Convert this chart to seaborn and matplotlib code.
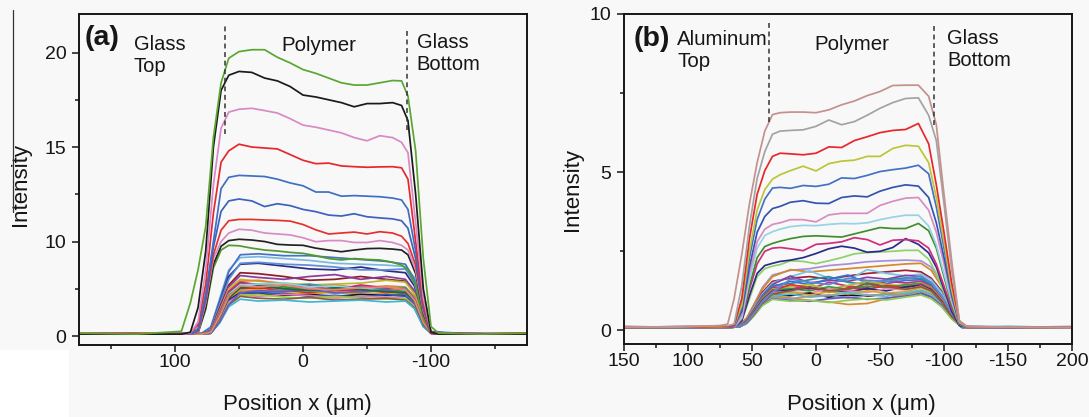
import numpy as np
import pandas as pd
import matplotlib
matplotlib.use("Agg")
import matplotlib.pyplot as plt
import seaborn as sns
from matplotlib.lines import Line2D
from matplotlib.patches import Rectangle

# ---------------------------------------------------------------- data (a)
A_X_TOP = [175, 130, 95, 88, 82, 76, 70, 64, 58, 50, 40, 30, 20, 10, 0, -10, -20, -30, -40, -50,
           -60, -70, -77, -82, -88, -94, -100, -106, -140, -175]
A_GREEN = [0.3, 0.2, 0.5, 3.5, 7.0, 10.8, 15.5, 18.4, 19.7, 20.05, 20.15, 20.15, 19.75, 19.45, 19.1, 18.9, 18.65, 18.4, 18.28, 18.28,
           18.4, 18.52, 18.5, 17.7, 14.8, 8.2, 1.0, 0.3, 0.2, 0.3]
A_BLACK = [0.2, 0.2, 0.2, 0.4, 3.0, 9.0, 15.0, 18.0, 18.8, 19.0, 18.95, 18.65, 18.5, 18.2, 17.75, 17.65, 17.5, 17.35, 17.13, 17.3,
           17.3, 17.35, 17.2, 16.4, 12.5, 5.0, 0.4, 0.2, 0.2, 0.2]
A_PINK = [0.2, 0.2, 0.2, 0.3, 1.5, 7.0, 13.0, 16.0, 16.85, 17.0, 17.05, 16.93, 16.8, 16.5, 16.16, 16.05, 15.9, 15.75, 15.5, 15.33,
          15.6, 15.5, 15.25, 14.7, 11.0, 4.0, 0.4, 0.2, 0.2, 0.2]
A_RED = [0.2, 0.2, 0.2, 0.3, 1.2, 5.5, 11.5, 14.2, 14.8, 15.15, 15.0, 14.95, 14.9, 14.6, 14.3, 14.12, 14.15, 14.0, 13.96, 13.93,
         13.95, 13.96, 13.9, 13.3, 10.0, 3.5, 0.3, 0.2, 0.2, 0.2]
A_BLUE1 = [0.2, 0.2, 0.2, 0.2, 0.8, 4.5, 10.0, 12.8, 13.4, 13.5, 13.47, 13.44, 13.3, 13.1, 12.95, 12.62, 12.62, 12.4, 12.43, 12.4,
           12.37, 12.3, 12.2, 11.7, 9.0, 3.2, 0.3, 0.2, 0.2, 0.2]
A_BLUE2 = [0.2, 0.2, 0.2, 0.2, 0.6, 4.0, 9.4, 11.6, 12.15, 12.25, 12.15, 11.85, 12.0, 11.9, 11.7, 11.58, 11.4, 11.35, 11.47, 11.31,
           11.25, 11.2, 11.1, 10.7, 8.2, 3.0, 0.3, 0.2, 0.2, 0.2]
A_RED2 = [0.2, 0.2, 0.2, 0.2, 0.5, 3.8, 8.6, 10.6, 11.1, 11.17, 11.17, 11.14, 11.12, 11.08, 10.9, 10.62, 10.4, 10.45, 10.5, 10.4,
          10.52, 10.45, 10.28, 9.8, 7.5, 2.8, 0.3, 0.2, 0.2, 0.2]
A_PINK2 = [0.2, 0.2, 0.2, 0.2, 0.4, 3.5, 8.2, 10.0, 10.45, 10.65, 10.6, 10.45, 10.4, 10.35, 10.2, 9.98, 10.05, 10.05, 9.9, 9.9,
           10.05, 9.9, 9.6, 9.1, 7.0, 2.6, 0.3, 0.2, 0.2, 0.2]
A_BLACK2 = [0.2, 0.2, 0.2, 0.2, 0.4, 3.0, 7.6, 9.5, 10.05, 10.12, 10.08, 10.0, 9.7, 9.63, 9.6, 9.3, 9.1, 8.92, 9.1, 9.25,
            9.28, 9.2, 9.1, 8.6, 6.6, 2.4, 0.3, 0.2, 0.2, 0.2]
A_GREEN2 = [0.2, 0.2, 0.2, 0.2, 0.3, 2.8, 7.2, 9.1, 9.6, 9.55, 9.3, 9.1, 9.0, 8.85, 8.75, 8.5, 8.2, 8.05, 8.2, 8.1,
            8.05, 7.8, 7.5, 7.0, 5.4, 2.0, 0.3, 0.2, 0.2, 0.2]
A_TOP = {"g1": A_GREEN, "k1": A_BLACK, "p1": A_PINK, "r1": A_RED, "b1": A_BLUE1, "b2": A_BLUE2,
         "r2": A_RED2, "p2": A_PINK2, "k2": A_BLACK2, "g2": A_GREEN2}
A_TOP_COLORS = {"g1": "#5aa630", "k1": "#1a1a1a", "p1": "#d889c6", "r1": "#e5282f", "b1": "#3f6fc4",
                "b2": "#3b62bc", "r2": "#e6302f", "p2": "#d88cc4", "k2": "#222222", "g2": "#4f9a2e"}

A_X_LOW = [175, 110, 79, 72, 65, 58, 49, 35, 15, -5, -25, -45, -65, -80, -87, -94, -100, -130, -175]
A_LOW = {
    "c01": [0.2, 0.2, 0.3, 1.0, 4.0, 7.0, 8.3, 8.4, 8.2, 8.0, 7.7, 7.6, 7.5, 7.35, 6.2, 2.5, 0.5, 0.2, 0.2],
    "c02": [0.2, 0.3, 0.3, 0.9, 3.8, 6.8, 8.6, 8.7, 8.5, 8.5, 8.3, 8.1, 7.9, 7.6, 6.0, 2.2, 0.4, 0.2, 0.3],
    "c03": [0.3, 0.2, 0.2, 0.8, 3.5, 6.3, 7.6, 7.7, 7.4, 7.1, 7.0, 7.3, 6.9, 6.7, 5.3, 2.0, 0.4, 0.2, 0.2],
    "c04": [0.2, 0.2, 0.2, 0.8, 3.4, 6.0, 7.7, 7.8, 7.6, 7.5, 7.3, 7.0, 7.0, 7.1, 5.6, 2.1, 0.4, 0.3, 0.2],
    "c05": [0.3, 0.3, 0.2, 0.6, 3.0, 5.4, 6.7, 6.6, 6.3, 5.9, 6.0, 6.3, 6.0, 5.8, 4.6, 1.8, 0.4, 0.2, 0.3],
    "c06": [0.2, 0.2, 0.2, 0.6, 2.8, 5.2, 6.4, 6.2, 6.0, 6.3, 6.5, 6.0, 6.3, 6.0, 4.8, 1.9, 0.4, 0.2, 0.2],
    "c07": [0.2, 0.2, 0.2, 0.5, 2.7, 5.0, 6.0, 5.8, 5.6, 5.4, 5.5, 5.6, 5.9, 5.7, 4.5, 1.8, 0.3, 0.2, 0.2],
    "c08": [0.3, 0.2, 0.2, 0.5, 2.6, 4.8, 5.8, 5.9, 5.5, 5.2, 5.4, 5.1, 5.3, 5.2, 4.2, 1.6, 0.3, 0.2, 0.3],
    "c09": [0.2, 0.2, 0.2, 0.5, 2.5, 4.6, 5.6, 5.5, 5.3, 5.5, 5.1, 5.2, 5.0, 5.1, 4.0, 1.5, 0.3, 0.2, 0.2],
    "c10": [0.3, 0.3, 0.2, 0.5, 2.5, 4.7, 5.7, 5.4, 5.0, 5.3, 4.9, 5.4, 5.1, 4.9, 3.9, 1.5, 0.3, 0.3, 0.2],
    "c11": [0.2, 0.2, 0.2, 0.4, 2.3, 4.4, 5.4, 5.5, 5.6, 5.2, 5.3, 5.0, 4.8, 4.8, 3.8, 1.4, 0.3, 0.2, 0.2],
    "c12": [0.2, 0.2, 0.2, 0.4, 2.2, 4.3, 5.2, 5.0, 5.2, 4.9, 5.0, 4.7, 4.9, 4.7, 3.7, 1.4, 0.3, 0.2, 0.2],
    "c13": [0.3, 0.2, 0.2, 0.4, 2.2, 4.2, 5.0, 5.1, 4.8, 4.6, 4.8, 4.9, 4.6, 4.5, 3.6, 1.3, 0.3, 0.2, 0.3],
    "c14": [0.2, 0.2, 0.2, 0.4, 2.1, 4.1, 4.9, 4.7, 4.9, 4.8, 4.5, 4.6, 4.8, 4.6, 3.6, 1.3, 0.3, 0.2, 0.2],
    "c15": [0.2, 0.3, 0.2, 0.4, 2.0, 4.0, 4.8, 4.9, 4.6, 4.4, 4.7, 4.4, 4.5, 4.4, 3.5, 1.3, 0.3, 0.2, 0.2],
    "c16": [0.2, 0.2, 0.2, 0.3, 1.8, 3.8, 4.6, 4.5, 4.3, 4.4, 4.2, 4.4, 4.3, 4.3, 3.4, 1.2, 0.3, 0.2, 0.2],
    "c17": [0.2, 0.2, 0.2, 0.3, 1.8, 3.7, 4.5, 4.6, 4.5, 4.2, 4.3, 4.1, 4.4, 4.2, 3.3, 1.2, 0.3, 0.2, 0.2],
    "c18": [0.3, 0.2, 0.2, 0.3, 1.7, 3.6, 4.4, 4.2, 4.4, 4.3, 4.0, 4.2, 4.1, 4.0, 3.2, 1.1, 0.3, 0.2, 0.2],
    "c19": [0.2, 0.2, 0.2, 0.3, 1.6, 3.4, 4.3, 4.4, 4.1, 4.0, 4.2, 4.0, 3.9, 4.0, 3.1, 1.1, 0.3, 0.2, 0.2],
    "c20": [0.2, 0.2, 0.2, 0.3, 1.5, 3.3, 4.2, 4.0, 3.9, 4.1, 3.8, 3.9, 4.0, 3.8, 3.0, 1.0, 0.3, 0.2, 0.2],
    "c21": [0.2, 0.2, 0.2, 0.3, 1.4, 3.1, 3.9, 3.7, 3.8, 3.6, 3.7, 3.8, 3.6, 3.7, 2.9, 1.0, 0.3, 0.2, 0.2],
    "c22": [0.2, 0.2, 0.2, 0.3, 1.5, 3.3, 4.6, 4.8, 4.7, 4.9, 4.6, 4.7, 4.9, 4.4, 3.5, 1.2, 0.3, 0.2, 0.2],
    "c23": [0.2, 0.2, 0.2, 0.4, 2.0, 4.0, 5.1, 5.3, 5.0, 4.8, 5.1, 4.9, 4.7, 4.6, 3.7, 1.3, 0.3, 0.2, 0.2],
    "c24": [0.2, 0.2, 0.2, 0.4, 2.1, 4.2, 5.3, 5.2, 5.4, 5.0, 4.9, 5.1, 5.2, 4.9, 3.8, 1.4, 0.3, 0.2, 0.2],
}
A_LOW_COLORS = ["#7ab8e0", "#4572c4", "#2c2a86", "#5d8fd6", "#8c1d2a", "#8a3c9c", "#b8b832", "#e0882c",
                "#2a9d8f", "#c8257a", "#8fd0ea", "#3c8f2e", "#d9262c", "#8c8c8c", "#d4a521", "#151515",
                "#2f55c8", "#e07bb8", "#9ccc3c", "#8b5a3c", "#3fb6d3", "#6b5bc4", "#1f6b3a", "#e9836f"]
A_INTERFACE_X = [61, -81]
A_INTERFACE_LO = [15.7, 15.9]
A_INTERFACE_HI = [21.5, 21.3]

# ---------------------------------------------------------------- data (b)
B_X_TOP = [150, 110, 75, 69, 64, 58, 52, 46, 40, 34, 28, 20, 10, 0, -10, -20, -30, -40, -50, -60,
           -70, -80, -88, -94, -100, -106, -112, -118, -160, -200]
B_BROWN = [0.1, 0.12, 0.15, 0.2, 1.0, 2.4, 4.0, 5.3, 6.3, 6.82, 6.88, 6.9, 6.9, 6.88, 6.97, 7.13, 7.25, 7.42, 7.55, 7.74,
           7.75, 7.75, 7.4, 6.5, 4.3, 2.2, 0.3, 0.12, 0.1, 0.08]
B_GRAY = [0.1, 0.1, 0.15, 0.15, 0.2, 1.4, 3.3, 4.8, 5.65, 6.2, 6.3, 6.32, 6.34, 6.45, 6.65, 6.5, 6.6, 6.8, 7.02, 7.2,
          7.33, 7.35, 6.8, 6.0, 4.0, 1.9, 0.3, 0.12, 0.1, 0.1]
B_RED = [0.1, 0.1, 0.12, 0.12, 0.15, 1.0, 2.9, 4.3, 5.05, 5.5, 5.6, 5.58, 5.55, 5.6, 5.8, 5.78, 6.0, 6.12, 6.25, 6.32,
         6.35, 6.54, 5.9, 4.6, 3.1, 1.5, 0.3, 0.1, 0.1, 0.1]
B_YGREEN = [0.1, 0.1, 0.1, 0.12, 0.15, 0.8, 2.5, 3.8, 4.45, 4.78, 4.92, 5.05, 5.19, 5.04, 5.27, 5.35, 5.38, 5.5, 5.5, 5.75,
            5.85, 5.82, 5.3, 4.2, 2.8, 1.3, 0.25, 0.1, 0.1, 0.1]
B_BLUE = [0.1, 0.1, 0.1, 0.1, 0.12, 0.7, 2.3, 3.5, 4.15, 4.5, 4.52, 4.49, 4.58, 4.55, 4.62, 4.82, 4.8, 4.9, 5.02, 5.08,
          5.13, 5.22, 4.95, 3.9, 2.6, 1.2, 0.25, 0.1, 0.1, 0.1]
B_DBLUE = [0.1, 0.1, 0.1, 0.1, 0.12, 0.6, 2.0, 3.1, 3.6, 3.85, 3.92, 4.05, 4.1, 4.02, 4.01, 4.2, 4.25, 4.22, 4.4, 4.52,
           4.6, 4.56, 4.2, 3.4, 2.3, 1.1, 0.2, 0.1, 0.1, 0.1]
B_PINK = [0.1, 0.1, 0.1, 0.1, 0.1, 0.5, 1.8, 2.8, 3.2, 3.35, 3.4, 3.5, 3.5, 3.43, 3.65, 3.7, 3.7, 3.7, 3.95, 4.08,
          4.18, 4.2, 3.8, 3.1, 2.1, 1.0, 0.2, 0.1, 0.1, 0.1]
B_LBLUE = [0.1, 0.1, 0.1, 0.1, 0.1, 0.4, 1.6, 2.6, 3.0, 3.12, 3.2, 3.28, 3.32, 3.31, 3.35, 3.38, 3.37, 3.4, 3.5, 3.58,
           3.64, 3.64, 3.3, 2.7, 1.8, 0.9, 0.2, 0.1, 0.1, 0.1]
B_GREEN = [0.1, 0.1, 0.1, 0.1, 0.1, 0.4, 1.4, 2.3, 2.65, 2.75, 2.82, 2.9, 2.97, 2.99, 2.97, 2.95, 3.05, 3.15, 3.25, 3.22,
           3.22, 3.38, 3.15, 2.6, 1.7, 0.8, 0.2, 0.1, 0.1, 0.1]
B_MAGENTA = [0.1, 0.1, 0.1, 0.1, 0.1, 0.35, 1.3, 2.1, 2.5, 2.6, 2.62, 2.58, 2.52, 2.72, 2.75, 2.8, 2.93, 2.87, 2.7, 2.85,
             2.87, 2.83, 2.6, 2.1, 1.4, 0.7, 0.2, 0.1, 0.1, 0.1]
B_NAVY = [0.1, 0.1, 0.1, 0.1, 0.1, 0.3, 1.1, 1.8, 2.05, 2.12, 2.18, 2.22, 2.3, 2.43, 2.58, 2.66, 2.6, 2.47, 2.5, 2.62,
          2.9, 2.72, 2.45, 2.0, 1.3, 0.6, 0.15, 0.1, 0.1, 0.1]
B_LGREEN = [0.1, 0.1, 0.1, 0.1, 0.1, 0.3, 1.0, 1.7, 1.95, 2.03, 2.08, 2.2, 2.18, 2.11, 2.2, 2.3, 2.42, 2.46, 2.48, 2.5,
            2.53, 2.53, 2.25, 1.8, 1.2, 0.6, 0.15, 0.1, 0.1, 0.1]
B_TOP = {"br": B_BROWN, "gy": B_GRAY, "rd": B_RED, "yg": B_YGREEN, "bl": B_BLUE, "db": B_DBLUE,
         "pk": B_PINK, "lb": B_LBLUE, "gn": B_GREEN, "mg": B_MAGENTA, "nv": B_NAVY, "lg": B_LGREEN}
B_TOP_COLORS = {"br": "#c4918c", "gy": "#a3a3a3", "rd": "#e8262b", "yg": "#bcc634", "bl": "#4470c8",
                "db": "#3553b0", "pk": "#d98cc2", "lb": "#95d3e6", "gn": "#3f8f2c", "mg": "#cf2e7c",
                "nv": "#2a2c8c", "lg": "#8fd068"}

B_X_LOW = [150, 100, 66, 60, 54, 48, 42, 34, 20, 5, -10, -25, -40, -55, -70, -82, -90, -98, -106, -114, -150, -200]
B_LOW = {
    "d01": [0.10, 0.12, 0.10, 0.15, 0.40, 0.85, 1.35, 1.75, 1.90, 1.95, 2.05, 2.10, 2.17, 2.20, 2.22, 2.20, 2.00, 1.50, 0.75, 0.15, 0.10, 0.08],
    "d02": [0.08, 0.10, 0.10, 0.15, 0.40, 0.85, 1.30, 1.70, 1.92, 1.85, 1.90, 1.95, 2.00, 2.05, 2.10, 2.12, 1.90, 1.40, 0.70, 0.12, 0.10, 0.10],
    "d03": [0.10, 0.08, 0.10, 0.14, 0.35, 0.75, 1.20, 1.55, 1.65, 1.70, 1.62, 1.72, 1.80, 1.85, 1.90, 1.85, 1.65, 1.25, 0.62, 0.12, 0.08, 0.10],
    "d04": [0.12, 0.10, 0.10, 0.13, 0.35, 0.75, 1.15, 1.50, 1.70, 1.88, 1.65, 1.60, 1.92, 1.80, 1.72, 1.78, 1.60, 1.20, 0.60, 0.12, 0.12, 0.10],
    "d05": [0.10, 0.10, 0.12, 0.13, 0.32, 0.70, 1.10, 1.45, 1.72, 1.50, 1.58, 1.55, 1.68, 1.62, 1.74, 1.70, 1.50, 1.10, 0.55, 0.10, 0.10, 0.12],
    "d06": [0.10, 0.10, 0.10, 0.12, 0.30, 0.68, 1.08, 1.42, 1.48, 1.60, 1.70, 1.52, 1.45, 1.60, 1.66, 1.64, 1.45, 1.05, 0.52, 0.10, 0.10, 0.10],
    "d07": [0.10, 0.12, 0.10, 0.12, 0.30, 0.66, 1.05, 1.38, 1.55, 1.45, 1.62, 1.75, 1.50, 1.48, 1.58, 1.60, 1.42, 1.05, 0.52, 0.10, 0.12, 0.10],
    "d08": [0.08, 0.10, 0.10, 0.12, 0.30, 0.65, 1.02, 1.35, 1.40, 1.30, 1.52, 1.40, 1.35, 1.55, 1.50, 1.55, 1.38, 1.00, 0.50, 0.10, 0.10, 0.08],
    "d09": [0.10, 0.10, 0.10, 0.12, 0.28, 0.62, 1.00, 1.30, 1.38, 1.45, 1.30, 1.42, 1.55, 1.45, 1.40, 1.50, 1.35, 0.98, 0.48, 0.10, 0.10, 0.10],
    "d10": [0.10, 0.10, 0.10, 0.12, 0.28, 0.60, 0.98, 1.28, 1.32, 1.25, 1.38, 1.30, 1.40, 1.35, 1.45, 1.48, 1.32, 0.95, 0.48, 0.10, 0.10, 0.10],
    "d11": [0.12, 0.10, 0.10, 0.12, 0.28, 0.60, 0.96, 1.25, 1.45, 1.35, 1.20, 1.35, 1.30, 1.42, 1.35, 1.45, 1.30, 0.95, 0.46, 0.10, 0.10, 0.10],
    "d12": [0.10, 0.10, 0.10, 0.11, 0.26, 0.58, 0.94, 1.22, 1.28, 1.35, 1.28, 1.22, 1.32, 1.25, 1.38, 1.42, 1.28, 0.92, 0.45, 0.10, 0.10, 0.10],
    "d13": [0.10, 0.12, 0.10, 0.11, 0.26, 0.56, 0.92, 1.20, 1.22, 1.18, 1.30, 1.25, 1.20, 1.32, 1.28, 1.40, 1.25, 0.90, 0.44, 0.10, 0.10, 0.10],
    "d14": [0.10, 0.10, 0.10, 0.11, 0.25, 0.55, 0.90, 1.12, 1.10, 1.18, 1.05, 1.12, 1.08, 1.15, 1.12, 1.20, 1.08, 0.80, 0.40, 0.10, 0.10, 0.10],
    "d15": [0.10, 0.10, 0.10, 0.11, 0.25, 0.55, 0.88, 1.15, 1.20, 1.12, 1.22, 1.15, 1.25, 1.18, 1.22, 1.35, 1.20, 0.88, 0.42, 0.10, 0.10, 0.10],
    "d16": [0.10, 0.10, 0.10, 0.11, 0.24, 0.52, 0.85, 1.10, 1.02, 0.95, 0.90, 0.82, 0.85, 1.00, 1.15, 1.25, 1.12, 0.82, 0.40, 0.10, 0.10, 0.10],
    "d17": [0.10, 0.10, 0.10, 0.11, 0.24, 0.52, 0.85, 1.08, 1.15, 1.05, 1.10, 1.20, 1.12, 1.08, 1.18, 1.28, 1.15, 0.85, 0.40, 0.10, 0.10, 0.10],
    "d18": [0.10, 0.10, 0.10, 0.11, 0.23, 0.50, 0.82, 1.05, 1.00, 1.08, 1.12, 1.02, 1.10, 1.15, 1.10, 1.22, 1.10, 0.80, 0.40, 0.10, 0.10, 0.10],
    "d19": [0.10, 0.10, 0.10, 0.11, 0.23, 0.50, 0.80, 1.00, 0.95, 0.92, 1.00, 1.05, 0.98, 1.02, 1.08, 1.15, 1.05, 0.78, 0.38, 0.10, 0.10, 0.10],
    "d20": [0.10, 0.10, 0.10, 0.11, 0.22, 0.48, 0.78, 0.98, 0.92, 0.95, 0.88, 0.95, 1.00, 0.96, 1.05, 1.12, 1.00, 0.75, 0.36, 0.10, 0.10, 0.10],
    "d21": [0.10, 0.10, 0.10, 0.11, 0.24, 0.52, 0.86, 1.15, 1.25, 1.38, 1.25, 1.30, 1.48, 1.38, 1.30, 1.38, 1.25, 0.90, 0.44, 0.10, 0.10, 0.10],
    "d22": [0.10, 0.10, 0.10, 0.11, 0.25, 0.55, 0.90, 1.20, 1.62, 1.52, 1.45, 1.65, 1.58, 1.55, 1.62, 1.72, 1.52, 1.10, 0.54, 0.10, 0.10, 0.10],
}
B_LOW_COLORS = ["#a58fd8", "#d4892c", "#9c2233", "#78c4e4", "#8a3fa8", "#2b8f9c", "#3c6fd0", "#c72f7f",
                "#b3b834", "#3e9a3a", "#e0302e", "#262a80", "#e08ac0", "#111111", "#d7a628", "#d98a30",
                "#4fc0d8", "#9a9a9a", "#6a55c8", "#8fce5a", "#8c5a3a", "#5a8ad6"]
B_INTERFACE_X = [37, -92]
B_INTERFACE_LO = [6.6, 6.5]
B_INTERFACE_HI = [9.8, 9.7]


def to_long(x_nodes, curves):
    rows = []
    for name, vals in curves.items():
        for x, v in zip(x_nodes, vals, strict=True):
            rows.append((name, x, v))
    return pd.DataFrame(rows, columns=["curve", "x", "v"])


# ---------------------------------------------------------------- style
sns.set_theme(style="ticks")
plt.rcParams["font.family"] = ["Liberation Sans", "DejaVu Sans"]
plt.rcParams["axes.unicode_minus"] = False

BG = "#f8f8f8"
INK = "#161616"
W, H = 1089, 417
fig = plt.figure(figsize=(W / 100, H / 100), dpi=100, facecolor=BG)
fig.patches.append(Rectangle((0, 0), 69 / W, 67 / H, transform=fig.transFigure,
                             facecolor="white", edgecolor="none", zorder=0))

axA = fig.add_axes([79 / W, 1 - 345 / H, 448 / W, 331 / H], facecolor=BG)
axB = fig.add_axes([624 / W, 1 - 344 / H, 448 / W, 330 / H], facecolor=BG)

LW = 1.25


def draw(ax, x_low, low, low_colors, x_top, top, top_colors):
    df_low = to_long(x_low, low)
    pal_low = dict(zip(low.keys(), low_colors))
    sns.lineplot(data=df_low, x="x", y="v", hue="curve", hue_order=list(low.keys()),
                 palette=pal_low, estimator=None, sort=False, legend=False,
                 linewidth=LW, ax=ax)
    df_top = to_long(x_top, top)
    sns.lineplot(data=df_top, x="x", y="v", hue="curve", hue_order=list(top.keys())[::-1],
                 palette=top_colors, estimator=None, sort=False, legend=False,
                 linewidth=LW, ax=ax)


draw(axA, A_X_LOW, A_LOW, A_LOW_COLORS, A_X_TOP, A_TOP, A_TOP_COLORS)
draw(axB, B_X_LOW, B_LOW, B_LOW_COLORS, B_X_TOP, B_TOP, B_TOP_COLORS)

axA.vlines(A_INTERFACE_X, A_INTERFACE_LO, A_INTERFACE_HI, colors="#333333",
           linestyles=(0, (3.2, 2.4)), linewidth=1.1, zorder=5)
axB.vlines(B_INTERFACE_X, B_INTERFACE_LO, B_INTERFACE_HI, colors="#333333",
           linestyles=(0, (3.2, 2.4)), linewidth=1.1, zorder=5)


# piecewise y scale of panel (a): 0-10 compressed by two
def fwd(v):
    v = np.asarray(v, dtype=float)
    return np.where(v <= 10, v / 2.0, v - 5.0)


def inv(p):
    p = np.asarray(p, dtype=float)
    return np.where(p <= 5, 2.0 * p, p + 5.0)


axA.set_yscale("function", functions=(fwd, inv))
axA.set_ylim(-0.95, 22.04)
axA.set_xlim(175, -175)
axA.set_xticks([100, 0, -100], ["100", "0", "-100"])
axA.set_xticks([150, 50, -50, -150], minor=True)
axA.set_yticks([0, 10, 15, 20], ["0", "10", "15", "20"])
axA.set_yticks([5, 12.5, 17.5], minor=True)

axB.set_ylim(-0.43, 10)
axB.set_xlim(150, -200)
axB.set_xticks([150, 100, 50, 0, -50, -100, -150, -200],
               ["150", "100", "50", "0", "-50", "-100", "-150", "200"])
axB.set_xticks([125, 75, 25, -25, -75, -125, -175], minor=True)
axB.set_yticks([0, 5, 10], ["0", "5", "10"])
axB.set_yticks([2.5, 7.5], minor=True)

for ax in (axA, axB):
    for s in ax.spines.values():
        s.set_linewidth(1.4)
        s.set_color(INK)
        s.set_visible(True)
    ax.tick_params(which="major", direction="out", length=5, width=1.1, color=INK,
                   labelsize=14, labelcolor=INK)
    ax.tick_params(which="minor", direction="out", length=3, width=1.1, color=INK)
    ax.tick_params(axis="x", which="major", pad=1.5)
    ax.tick_params(axis="y", which="major", pad=4)
    ax.set_xlabel("Position x (\u03bcm)", fontsize=16, color=INK)
    ax.set_ylabel("Intensity", fontsize=16, color=INK)
    ax.xaxis.label.set_va("center")
    ax.yaxis.label.set_va("center")

axA.xaxis.set_label_coords(0.488, -0.181)
axA.yaxis.set_label_coords(-0.1306, 0.4834)
axB.xaxis.set_label_coords(0.5304, -0.1848)
axB.yaxis.set_label_coords(-0.115, 0.4667)


def ftext(px, py, s, **kw):
    kw.setdefault("color", INK)
    kw.setdefault("va", "center")
    kw.setdefault("ha", "left")
    fig.text(px / W, 1 - py / H, s, **kw)


ftext(85, 38, "(a)", fontsize=20.5, fontweight="bold")
ftext(134, 55.5, "Glass\nTop", fontsize=14.5, linespacing=1.17)
ftext(319, 45.8, "Polymer", fontsize=14.8, ha="center")
ftext(416.5, 53.5, "Glass\nBottom", fontsize=14.5, linespacing=1.17)

ftext(634, 39, "(b)", fontsize=20.5, fontweight="bold")
ftext(677, 50.5, "Aluminum\nTop", fontsize=14.8, linespacing=1.17)
ftext(852, 45, "Polymer", fontsize=14.8, ha="center")
ftext(947, 49.5, "Glass\nBottom", fontsize=14.5, linespacing=1.17)

fig.add_artist(Line2D([12.7 / W, 12.7 / W], [1 - 10 / H, 1 - 212 / H],
                      transform=fig.transFigure, color="#333333", linewidth=0.9))

fig.savefig("out.png", dpi=100, facecolor=fig.get_facecolor())
